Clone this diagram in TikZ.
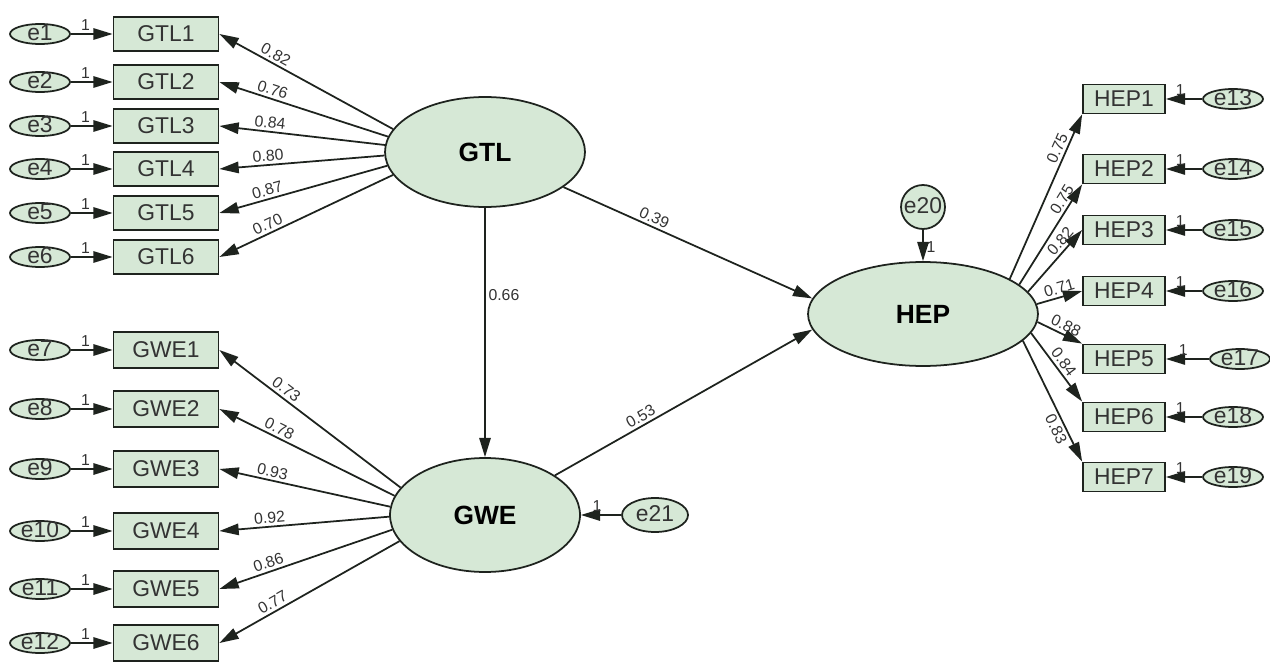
\documentclass[tikz,border=0pt]{standalone}
\usepackage{fontspec}
\setmainfont{Liberation Sans}
\usetikzlibrary{shapes.geometric,arrows.meta}
\definecolor{semfill}{RGB}{214,232,214}
\definecolor{semline}{RGB}{30,35,30}

\begin{document}
\begin{tikzpicture}[
		x = 0.02cm,
		y = -0.02cm,
		lat/.style = {
			ellipse,
			draw = semline,
			fill = semfill,
			line width = 1pt,
			inner sep = 0pt,
			font = \bfseries\fontsize{15}{17}\selectfont
		},
		obs/.style = {
			rectangle,
			draw = semline,
			fill = semfill,
			line width = 1pt,
			inner sep = 0pt,
			minimum width = 2.1cm,
			minimum height = 0.68cm,
			text = black!80,
			font = \fontsize{13}{15}\selectfont
		},
		err/.style = {
			ellipse,
			draw = semline,
			fill = semfill,
			line width = 1pt,
			inner sep = 0pt,
			minimum width = 1.2cm,
			minimum height = 0.4cm,
			text height = 7pt,
			text depth = 0pt,
			text = black!80,
			font = \fontsize{13}{15}\selectfont
		},
		reg/.style = {
			-{Triangle[length=11pt,width=6.5pt]},
			draw = semline,
			line width = 1pt
		},
		wt/.style = {
			sloped,
			above,
			inner sep = 1.5pt,
			text = black!80,
			font = \fontsize{9}{10}\selectfont
		},
		one/.style = {
			above,
			inner sep = 1.5pt,
			text = black!80,
			font = \fontsize{9}{10}\selectfont
		}
	]
	\useasboundingbox (0,0) rectangle (1270,662);
	% latent variables
	\node[lat, minimum width=4cm,   minimum height=2.2cm]  (GTL) at (485,152) {GTL};
	\node[lat, minimum width=3.8cm, minimum height=2.28cm] (GWE) at (485,515) {GWE};
	\node[lat, minimum width=4.6cm, minimum height=2.08cm] (HEP) at (923,314) {HEP};
	% GTL indicators
	\node[obs] (T1) at (166,34)  {GTL1};
	\node[obs] (T2) at (166,82)  {GTL2};
	\node[obs] (T3) at (166,126) {GTL3};
	\node[obs] (T4) at (166,169) {GTL4};
	\node[obs] (T5) at (166,213) {GTL5};
	\node[obs] (T6) at (166,257) {GTL6};
	\node[err] (e1) at (40,34)  {e1};
	\node[err] (e2) at (40,82)  {e2};
	\node[err] (e3) at (40,126) {e3};
	\node[err] (e4) at (40,169) {e4};
	\node[err] (e5) at (40,213) {e5};
	\node[err] (e6) at (40,257) {e6};
	% GWE indicators
	\node[obs, minimum height=0.72cm] (W1) at (166,350) {GWE1};
	\node[obs, minimum height=0.72cm] (W2) at (166,409) {GWE2};
	\node[obs, minimum height=0.72cm] (W3) at (166,469) {GWE3};
	\node[obs, minimum height=0.72cm] (W4) at (166,531) {GWE4};
	\node[obs, minimum height=0.72cm] (W5) at (166,589) {GWE5};
	\node[obs, minimum height=0.72cm] (W6) at (166,643) {GWE6};
	\node[err] (e7)  at (40,350) {e7};
	\node[err] (e8)  at (40,409) {e8};
	\node[err] (e9)  at (40,469) {e9};
	\node[err] (e10) at (40,531) {e10};
	\node[err] (e11) at (40,589) {e11};
	\node[err] (e12) at (40,643) {e12};
	% HEP indicators
	\node[obs, minimum width=1.64cm, minimum height=0.58cm] (H1) at (1124,99)  {HEP1};
	\node[obs, minimum width=1.64cm, minimum height=0.58cm] (H2) at (1124,169) {HEP2};
	\node[obs, minimum width=1.64cm, minimum height=0.58cm] (H3) at (1124,230) {HEP3};
	\node[obs, minimum width=1.64cm, minimum height=0.58cm] (H4) at (1124,291) {HEP4};
	\node[obs, minimum width=1.64cm, minimum height=0.58cm] (H5) at (1124,359) {HEP5};
	\node[obs, minimum width=1.64cm, minimum height=0.58cm] (H6) at (1124,417) {HEP6};
	\node[obs, minimum width=1.64cm, minimum height=0.58cm] (H7) at (1124,477) {HEP7};
	\node[err] (e13) at (1233,99)  {e13};
	\node[err] (e14) at (1233,169) {e14};
	\node[err] (e15) at (1233,230) {e15};
	\node[err] (e16) at (1233,291) {e16};
	\node[err] (e17) at (1240,359) {e17};
	\node[err] (e18) at (1233,417) {e18};
	\node[err] (e19) at (1233,477) {e19};
	% disturbances
	\node[err, circle, minimum width=0.88cm, minimum height=0.88cm] (e20) at (923,207) {e20};
	\node[err, minimum width=1.32cm, minimum height=0.68cm] (e21) at (655,515) {e21};
	% error paths
	\draw[reg] (e1) -- node[one, pos=0.35] {1} (T1);
	\draw[reg] (e2) -- node[one, pos=0.35] {1} (T2);
	\draw[reg] (e3) -- node[one, pos=0.35] {1} (T3);
	\draw[reg] (e4) -- node[one, pos=0.35] {1} (T4);
	\draw[reg] (e5) -- node[one, pos=0.35] {1} (T5);
	\draw[reg] (e6) -- node[one, pos=0.35] {1} (T6);
	\draw[reg] (e7)  -- node[one, pos=0.35] {1} (W1);
	\draw[reg] (e8)  -- node[one, pos=0.35] {1} (W2);
	\draw[reg] (e9)  -- node[one, pos=0.35] {1} (W3);
	\draw[reg] (e10) -- node[one, pos=0.35] {1} (W4);
	\draw[reg] (e11) -- node[one, pos=0.35] {1} (W5);
	\draw[reg] (e12) -- node[one, pos=0.35] {1} (W6);
	\draw[reg] (e13) -- node[one, pos=0.6] {1} (H1);
	\draw[reg] (e14) -- node[one, pos=0.6] {1} (H2);
	\draw[reg] (e15) -- node[one, pos=0.6] {1} (H3);
	\draw[reg] (e16) -- node[one, pos=0.6] {1} (H4);
	\draw[reg] (e17) -- node[one, pos=0.6] {1} (H5);
	\draw[reg] (e18) -- node[one, pos=0.6] {1} (H6);
	\draw[reg] (e19) -- node[one, pos=0.6] {1} (H7);
	\draw[reg] (e20) -- node[one, right, pos=0.55] {1} (HEP);
	\draw[reg] (e21) -- node[one, pos=0.6] {1} (GWE);
	% loadings
	\draw[reg] (GTL.166) -- node[wt, pos=0.7] {0.82} (T1.east);
	\draw[reg] (GTL.171) -- node[wt, pos=0.7] {0.76} (T2.east);
	\draw[reg] (GTL.176) -- node[wt, pos=0.7] {0.84} (T3.east);
	\draw[reg] (GTL.182) -- node[wt, pos=0.7] {0.80} (T4.east);
	\draw[reg] (GTL.188) -- node[wt, pos=0.7] {0.87} (T5.east);
	\draw[reg] (GTL.194) -- node[wt, pos=0.7] {0.70} (T6.east);
	\draw[reg] (GWE.162) -- node[wt, pos=0.66] {0.73} (W1.east);
	\draw[reg] (GWE.168) -- node[wt, pos=0.68] {0.78} (W2.east);
	\draw[reg] (GWE.175) -- node[wt, pos=0.7]  {0.93} (W3.east);
	\draw[reg] (GWE.181) -- node[wt, pos=0.7]  {0.92} (W4.east);
	\draw[reg] (GWE.189) -- node[wt, pos=0.7]  {0.86} (W5.east);
	\draw[reg] (GWE.197) -- node[wt, pos=0.68] {0.77} (W6.east);
	\draw[reg] (HEP.22)  -- node[wt, pos=0.77] {0.75} (H1.south west);
	\draw[reg] (HEP.17)  -- node[wt, pos=0.8]  {0.75} (H2.south west);
	\draw[reg] (HEP.12)  -- node[wt, pos=0.72] {0.82} (H3.west);
	\draw[reg] (HEP.5)   -- node[wt, pos=0.55] {0.71} (H4.west);
	\draw[reg] (HEP.-4)  -- node[wt, pos=0.55] {0.88} (H5.north west);
	\draw[reg] (HEP.-10) -- node[wt, pos=0.5]  {0.84} (H6.north west);
	\draw[reg] (HEP.-15) -- node[wt, below, pos=0.7] {0.83} (H7.north west);
	% structural paths
	\draw[reg] (GTL) -- node[one, right, pos=0.35] {0.66} (GWE);
	\draw[reg] (GTL) -- node[wt, pos=0.35] {0.39} (HEP.172);
	\draw[reg] (GWE) -- node[wt, pos=0.35] {0.53} (HEP.188);
\end{tikzpicture}
\end{document}
